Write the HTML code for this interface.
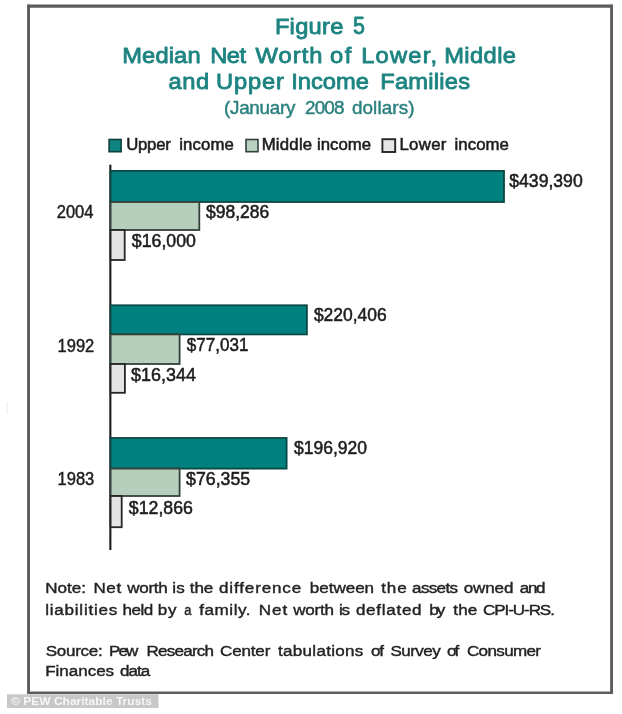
<!DOCTYPE html>
<html>
<head>
<meta charset="utf-8">
<title>Figure 5 - Median Net Worth</title>
<style>
html,body{margin:0;padding:0;background:#fff;}
body{width:622px;height:714px;overflow:hidden;font-family:"Liberation Sans",sans-serif;}
svg{display:block;}
text{font-family:"Liberation Sans",sans-serif;}
.t{fill:#1e8481;font-weight:normal;font-size:22.8px;stroke:#1e8481;stroke-width:0.85;stroke-linejoin:round;}
.s{fill:#2c807d;font-size:18.5px;stroke:#2c807d;stroke-width:0.45;}
.g{fill:#1c1c1c;font-size:16.6px;stroke:#1c1c1c;stroke-width:0.55;}
.y{fill:#1c1c1c;font-size:17.5px;stroke:#1c1c1c;stroke-width:0.45;}
.l{fill:#1c1c1c;font-size:19px;stroke:#1c1c1c;stroke-width:0.55;}
.n{fill:#222;font-size:15.5px;stroke:#222;stroke-width:0.4;}
</style>
</head>
<body>
<svg width="622" height="714" viewBox="0 0 622 714">
<defs><filter id="soft" x="-2%" y="-2%" width="104%" height="104%"><feGaussianBlur stdDeviation="0.45"/></filter></defs>
<rect x="0" y="0" width="622" height="714" fill="#ffffff"/>
<g filter="url(#soft)">
<!-- frame -->
<g fill="#5c5c5c">
<rect x="27.1" y="4.6" width="585.9" height="3.1" rx="1"/>
<rect x="27.1" y="691.4" width="585.9" height="2.5" rx="1"/>
<rect x="27.1" y="4.6" width="2.9" height="689.3" rx="1"/>
<rect x="610.1" y="4.6" width="2.9" height="689.3" rx="1"/>
</g>
<rect x="6.6" y="402" width="1" height="12" fill="#ececec"/>
<!-- watermark -->
<rect x="7" y="694.3" width="151.5" height="13.7" fill="#c8c8c8"/>
<text x="11" y="705" font-size="11" font-weight="bold" fill="#f6f6f6" textLength="141" lengthAdjust="spacingAndGlyphs">© PEW Charitable Trusts</text>
<!-- legend swatches -->
<rect x="109.1" y="139.5" width="12" height="12.2" fill="#0a8480" stroke="#0a3f3e" stroke-width="1.6"/>
<rect x="246.0" y="139.5" width="12" height="12.2" fill="#b7d0bf" stroke="#33403a" stroke-width="1.6"/>
<rect x="382.4" y="139.2" width="12.8" height="12.8" fill="#e6e6e6" stroke="#262626" stroke-width="1.9"/>
<!-- axis -->
<rect x="109.3" y="164.7" width="2.1" height="385.3" fill="#1a1a1a"/>
<!-- bars 2004 -->
<rect x="110.6" y="170.9" width="393.40" height="31.10" fill="#04817f" stroke="#0a4644" stroke-width="1.8"/>
<rect x="110.6" y="202.0" width="88.70" height="28.00" fill="#b5cfbc" stroke="#33423a" stroke-width="1.8"/>
<rect x="110.6" y="230.0" width="14.10" height="30.00" fill="#e4e4e4" stroke="#262626" stroke-width="1.8"/>
<!-- bars 1992 -->
<rect x="110.6" y="305.3" width="196.30" height="29.10" fill="#04817f" stroke="#0a4644" stroke-width="1.8"/>
<rect x="110.6" y="334.4" width="69.00" height="29.60" fill="#b5cfbc" stroke="#33423a" stroke-width="1.8"/>
<rect x="110.6" y="364.0" width="14.30" height="28.80" fill="#e4e4e4" stroke="#262626" stroke-width="1.8"/>
<!-- bars 1983 -->
<rect x="110.6" y="438.0" width="176.00" height="30.60" fill="#04817f" stroke="#0a4644" stroke-width="1.8"/>
<rect x="110.6" y="468.6" width="69.00" height="27.40" fill="#b5cfbc" stroke="#33423a" stroke-width="1.8"/>
<rect x="110.6" y="496.0" width="11.10" height="31.20" fill="#e4e4e4" stroke="#262626" stroke-width="1.8"/>
<!-- text -->
<text class="t" transform="translate(274.88,34.4) scale(1.04,1)" textLength="65.88" lengthAdjust="spacing">Figure</text>
<text class="t" x="353.10" y="34.4" textLength="11.90" lengthAdjust="spacingAndGlyphs" style="font-size:23.5px">5</text>
<text class="t" transform="translate(122.20,62.6) scale(1.04,1)" textLength="75.38" lengthAdjust="spacing">Median</text>
<text class="t" transform="translate(210.20,62.6) scale(1.04,1)" textLength="34.56" lengthAdjust="spacing">Net</text>
<text class="t" transform="translate(255.48,62.6) scale(1.04,1)" textLength="64.50" lengthAdjust="spacing">Worth</text>
<text class="t" transform="translate(330.00,62.6) scale(1.04,1)" textLength="20.42" lengthAdjust="spacing">of</text>
<text class="t" transform="translate(361.20,62.6) scale(1.04,1)" textLength="73.00" lengthAdjust="spacing">Lower,</text>
<text class="t" transform="translate(444.20,62.6) scale(1.04,1)" textLength="69.08" lengthAdjust="spacing">Middle</text>
<text class="t" transform="translate(168.50,89.4) scale(1.04,1)" textLength="39.23" lengthAdjust="spacing">and</text>
<text class="t" transform="translate(216.06,89.4) scale(1.04,1)" textLength="65.23" lengthAdjust="spacing">Upper</text>
<text class="t" transform="translate(291.16,89.4) scale(1.04,1)" textLength="74.88" lengthAdjust="spacing">Income</text>
<text class="t" transform="translate(380.20,89.4) scale(1.04,1)" textLength="86.38" lengthAdjust="spacing">Families</text>
<text class="s" transform="translate(224.00,114.0) scale(1.02,1)" textLength="70.08" lengthAdjust="spacing">(January</text>
<text class="s" transform="translate(305.00,114.0) scale(1.02,1)" textLength="38.63" lengthAdjust="spacing">2008</text>
<text class="s" transform="translate(351.94,114.0) scale(1.02,1)" textLength="61.33" lengthAdjust="spacing">dollars)</text>
<text class="g" transform="translate(126.20,150) scale(1.01,1)" textLength="44.16" lengthAdjust="spacing">Upper</text>
<text class="g" transform="translate(179.20,150) scale(1.01,1)" textLength="54.06" lengthAdjust="spacing">income</text>
<text class="g" transform="translate(261.70,150) scale(1.01,1)" textLength="50.00" lengthAdjust="spacing">Middle</text>
<text class="g" transform="translate(316.90,150) scale(1.01,1)" textLength="53.66" lengthAdjust="spacing">income</text>
<text class="g" transform="translate(399.40,150) scale(1.01,1)" textLength="46.61" lengthAdjust="spacing">Lower</text>
<text class="g" transform="translate(454.60,150) scale(1.01,1)" textLength="53.72" lengthAdjust="spacing">income</text>
<text class="y" x="56.76" y="218.3" textLength="36.74" lengthAdjust="spacingAndGlyphs">2004</text>
<text class="y" x="57.60" y="351.5" textLength="36.70" lengthAdjust="spacingAndGlyphs">1992</text>
<text class="y" x="57.60" y="484.6" textLength="36.70" lengthAdjust="spacingAndGlyphs">1983</text>
<text class="l" x="509.30" y="187" textLength="73.38" lengthAdjust="spacingAndGlyphs">$439,390</text>
<text class="l" x="206.12" y="217.5" textLength="63.18" lengthAdjust="spacingAndGlyphs">$98,286</text>
<text class="l" x="131.84" y="246.6" textLength="64.06" lengthAdjust="spacingAndGlyphs">$16,000</text>
<text class="l" x="313.90" y="321" textLength="72.80" lengthAdjust="spacingAndGlyphs">$220,406</text>
<text class="l" x="186.84" y="351" textLength="61.56" lengthAdjust="spacingAndGlyphs">$77,031</text>
<text class="l" x="131.12" y="380.9" textLength="64.78" lengthAdjust="spacingAndGlyphs">$16,344</text>
<text class="l" x="293.90" y="454.1" textLength="73.14" lengthAdjust="spacingAndGlyphs">$196,920</text>
<text class="l" x="186.10" y="484.5" textLength="64.10" lengthAdjust="spacingAndGlyphs">$76,355</text>
<text class="l" x="128.84" y="514" textLength="64.06" lengthAdjust="spacingAndGlyphs">$12,866</text>
<text class="n" transform="translate(45.20,593.2) scale(1.1,1)" textLength="37.00" lengthAdjust="spacing">Note:</text>
<text class="n" transform="translate(93.50,593.2) scale(1.1,1)" textLength="25.13" lengthAdjust="spacing">Net</text>
<text class="n" transform="translate(127.30,593.2) scale(1.1,1)" textLength="36.73" lengthAdjust="spacing">worth</text>
<text class="n" transform="translate(172.30,593.2) scale(1.1,1)" textLength="11.36" lengthAdjust="spacing">is</text>
<text class="n" transform="translate(189.84,593.2) scale(1.1,1)" textLength="21.24" lengthAdjust="spacing">the</text>
<text class="n" transform="translate(218.94,593.2) scale(1.1,1)" textLength="74.78" lengthAdjust="spacing">difference</text>
<text class="n" transform="translate(309.80,593.2) scale(1.1,1)" textLength="58.45" lengthAdjust="spacing">between</text>
<text class="n" transform="translate(381.20,593.2) scale(1.1,1)" textLength="23.18" lengthAdjust="spacing">the</text>
<text class="n" transform="translate(412.10,593.2) scale(1.1,1)" textLength="41.73" lengthAdjust="spacing">assets</text>
<text class="n" transform="translate(463.80,593.2) scale(1.1,1)" textLength="45.09" lengthAdjust="spacing">owned</text>
<text class="n" transform="translate(519.76,593.2) scale(1.1,1)" textLength="23.49" lengthAdjust="spacing">and</text>
<text class="n" transform="translate(45.20,615.0) scale(1.1,1)" textLength="65.55" lengthAdjust="spacing">liabilities</text>
<text class="n" transform="translate(122.40,615.0) scale(1.1,1)" textLength="28.00" lengthAdjust="spacing">held</text>
<text class="n" transform="translate(157.80,615.0) scale(1.1,1)" textLength="16.98" lengthAdjust="spacing">by</text>
<text class="n" x="184.30" y="615.0" textLength="7.18" lengthAdjust="spacingAndGlyphs">a</text>
<text class="n" transform="translate(199.20,615.0) scale(1.1,1)" textLength="46.73" lengthAdjust="spacing">family.</text>
<text class="n" transform="translate(258.80,615.0) scale(1.1,1)" textLength="25.87" lengthAdjust="spacing">Net</text>
<text class="n" transform="translate(293.30,615.0) scale(1.1,1)" textLength="36.91" lengthAdjust="spacing">worth</text>
<text class="n" transform="translate(339.00,615.0) scale(1.1,1)" textLength="10.00" lengthAdjust="spacing">is</text>
<text class="n" transform="translate(355.90,615.0) scale(1.1,1)" textLength="59.73" lengthAdjust="spacing">deflated</text>
<text class="n" transform="translate(429.20,615.0) scale(1.1,1)" textLength="14.65" lengthAdjust="spacing">by</text>
<text class="n" transform="translate(453.30,615.0) scale(1.1,1)" textLength="21.82" lengthAdjust="spacing">the</text>
<text class="n" transform="translate(483.10,615.0) scale(1.1,1)" textLength="65.27" lengthAdjust="spacing">CPI-U-RS.</text>
<text class="n" transform="translate(45.76,655.6) scale(1.1,1)" textLength="51.80" lengthAdjust="spacing">Source:</text>
<text class="n" transform="translate(109.10,655.6) scale(1.1,1)" textLength="26.47" lengthAdjust="spacing">Pew</text>
<text class="n" transform="translate(146.40,655.6) scale(1.1,1)" textLength="61.55" lengthAdjust="spacing">Research</text>
<text class="n" transform="translate(220.00,655.6) scale(1.1,1)" textLength="45.75" lengthAdjust="spacing">Center</text>
<text class="n" transform="translate(278.02,655.6) scale(1.1,1)" textLength="77.53" lengthAdjust="spacing">tabulations</text>
<text class="n" transform="translate(370.94,655.6) scale(1.1,1)" textLength="11.84" lengthAdjust="spacing">of</text>
<text class="n" transform="translate(390.50,655.6) scale(1.1,1)" textLength="45.62" lengthAdjust="spacing">Survey</text>
<text class="n" transform="translate(446.94,655.6) scale(1.1,1)" textLength="11.25" lengthAdjust="spacing">of</text>
<text class="n" transform="translate(466.90,655.6) scale(1.1,1)" textLength="67.40" lengthAdjust="spacing">Consumer</text>
<text class="n" transform="translate(45.20,675.7) scale(1.1,1)" textLength="62.64" lengthAdjust="spacing">Finances</text>
<text class="n" transform="translate(120.00,675.7) scale(1.1,1)" textLength="27.47" lengthAdjust="spacing">data</text>
</g>
</svg>
</body>
</html>
